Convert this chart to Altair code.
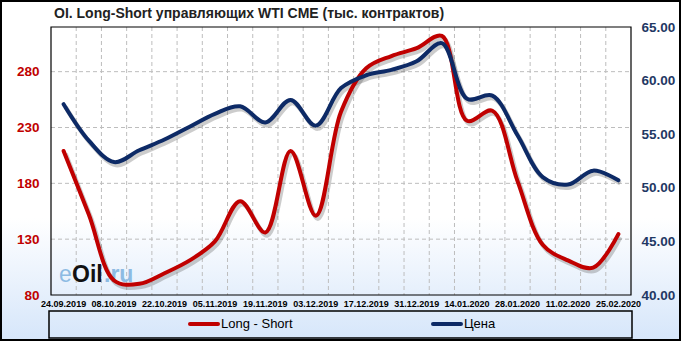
import altair as alt
import pandas as pd

# ---- data ----
dates = ["24.09.2019", "01.10.2019", "08.10.2019", "15.10.2019", "22.10.2019",
         "29.10.2019", "05.11.2019", "12.11.2019", "19.11.2019", "26.11.2019",
         "03.12.2019", "10.12.2019", "17.12.2019", "24.12.2019", "31.12.2019",
         "07.01.2020", "14.01.2020", "21.01.2020", "28.01.2020", "04.02.2020",
         "11.02.2020", "18.02.2020", "25.02.2020"]
long_short = [209, 152, 93, 90, 99.5, 111, 128, 164, 136, 209, 151, 244,
              283, 294, 301, 312, 236, 245, 182, 125, 111, 104.5, 134.5]
price = [57.8, 54.4, 52.4, 53.5, 54.5, 55.7, 56.9, 57.6, 56.1, 58.2, 55.8, 59.3,
         60.5, 61.0, 61.8, 63.5, 58.3, 58.6, 54.9, 51.0, 50.3, 51.6, 50.7]
x_labels = dates[::2]
left_ticks = [80, 130, 180, 230, 280]
right_ticks = [40, 45, 50, 55, 60, 65]
series_names = ["Long - Short", "Цена"]
series_colors = ["#c00000", "#0d2a66"]
title_text = "OI. Long-Short управляющих WTI CME (тыс. контрактов)"

W, H = 580, 268
FONT = "Liberation Sans"

df = pd.DataFrame({"date": dates, "ls": long_short, "price": price})

xscale = alt.Scale(type="band", domain=dates, paddingInner=0, paddingOuter=0)

base = alt.Chart(df)

bg = alt.Chart(pd.DataFrame({"a": [0]})).mark_rect(
    fill=alt.LinearGradient(gradient="linear", x1=0, x2=0, y1=0, y2=1,
                            stops=[alt.GradientStop(color="#ffffff", offset=0),
                                   alt.GradientStop(color="#ffffff", offset=0.64),
                                   alt.GradientStop(color="#d6e6fa", offset=1)]),
    stroke="#000000", strokeWidth=2
).encode(x=alt.value(-50), x2=alt.value(629), y=alt.value(-26), y2=alt.value(313))

# vertical dashed grid on the band boundaries of the date scale
vgrid = alt.Chart(pd.DataFrame({"date": dates[1:]})).mark_rule(
    color="#bdbdbd", strokeDash=[4, 3], strokeWidth=1
).encode(x=alt.X("date:O", scale=xscale, bandPosition=0, axis=None),
         y=alt.value(0), y2=alt.value(H))

# date labels placed through the x (band) scale
xlab = alt.Chart(pd.DataFrame({"date": x_labels})).mark_text(
    align="center", baseline="top", font=FONT, fontSize=9, fontWeight="bold", color="#000000"
).encode(x=alt.X("date:O", scale=xscale, bandPosition=0.5, axis=None),
         y=alt.value(H + 5), text="date:N")

def wm(txt, x, color, weight):
    return alt.Chart(pd.DataFrame({"t": [txt]})).mark_text(
        align="left", baseline="alphabetic", font=FONT, fontSize=23,
        fontWeight=weight, color=color
    ).encode(x=alt.value(x), y=alt.value(255), text="t:N")

wm_e = wm("e", 8, "#8dbbe3", "normal")
wm_oil = wm("Oil", 21, "#111111", "bold")
wm_ru = wm(".ru", 53, "#8dbbe3", "bold")

lscale = alt.Scale(domain=[80, 320], nice=False, zero=False)
left_axis = alt.Axis(orient="left", values=left_ticks, labelColor="#c00000", labelFont=FONT,
                     labelFontWeight="bold", labelFontSize=13.5, labelPadding=12,
                     ticks=False, domain=False, grid=False, title=None,
                     labelFlush=False, labelOverlap=False, zindex=2)
hgrid = alt.Chart(pd.DataFrame({"g": left_ticks[1:]})).mark_rule(
    color="#bdbdbd", strokeDash=[4, 3], strokeWidth=1
).encode(y=alt.Y("g:Q", scale=lscale, axis=None), x=alt.value(0), x2=alt.value(W))
red_shadow = base.mark_line(color="#555555", opacity=0.3, strokeWidth=4.5, xOffset=2, yOffset=3,
                            interpolate="catmull-rom").encode(
    x=alt.X("date:O", scale=xscale, bandPosition=0.5, axis=None),
    y=alt.Y("ls:Q", scale=lscale, axis=None))
red_line = base.mark_line(color=series_colors[0], strokeWidth=4, strokeCap="round",
                          interpolate="catmull-rom").encode(
    x=alt.X("date:O", scale=xscale, bandPosition=0.5, axis=None),
    y=alt.Y("ls:Q", scale=lscale, axis=left_axis))

rscale = alt.Scale(domain=[40, 65], nice=False, zero=False)
right_axis = alt.Axis(orient="right", values=right_ticks, format=".2f", labelColor="#1f3864",
                      labelFont=FONT, labelFontWeight="bold", labelFontSize=13.5, labelPadding=10,
                      ticks=False, domain=False, grid=False, title=None,
                      labelFlush=False, labelOverlap=False, zindex=2)
blue_shadow = base.mark_line(color="#555555", opacity=0.3, strokeWidth=4.5, xOffset=2, yOffset=3,
                             interpolate="catmull-rom").encode(
    x=alt.X("date:O", scale=xscale, bandPosition=0.5, axis=None),
    y=alt.Y("price:Q", scale=rscale, axis=None))
blue_line = base.mark_line(color=series_colors[1], strokeWidth=4, strokeCap="round",
                           interpolate="catmull-rom").encode(
    x=alt.X("date:O", scale=xscale, bandPosition=0.5, axis=None),
    y=alt.Y("price:Q", scale=rscale, axis=right_axis))

border = alt.Chart(pd.DataFrame({"a": [0]})).mark_rect(
    fill="transparent", stroke="#000000", strokeWidth=1.2
).encode(x=alt.value(0), x2=alt.value(W), y=alt.value(0), y2=alt.value(H))

title = alt.Chart(pd.DataFrame({"t": [title_text]})).mark_text(
    align="left", baseline="alphabetic", font=FONT, fontSize=14, fontWeight="bold", color="#222222"
).encode(x=alt.value(3), y=alt.value(-9), text="t:N")

# custom legend (box + one sample line and label per series)
leg_box = alt.Chart(pd.DataFrame({"a": [0]})).mark_rect(
    fill="transparent", stroke="#000000", strokeWidth=1.5
).encode(x=alt.value(-2), x2=alt.value(581), y=alt.value(284), y2=alt.value(311))
leg_layers = []
for name, color, x0 in zip(series_names, series_colors, [139, 382]):
    d = pd.DataFrame({"name": [name]})
    leg_layers.append(alt.Chart(d).mark_rule(strokeWidth=4, strokeCap="round", color=color).encode(
        x=alt.value(x0), x2=alt.value(x0 + 28), y=alt.value(297)))
    leg_layers.append(alt.Chart(d).mark_text(
        align="left", baseline="middle", font=FONT, fontSize=13, color="#000000"
    ).encode(x=alt.value(x0 + 31), y=alt.value(297), text="name:N"))

chart = alt.layer(
    bg, vgrid, xlab, wm_e, wm_oil, wm_ru, hgrid, red_shadow, blue_shadow, red_line, blue_line,
    border, title, leg_box, *leg_layers
).resolve_scale(y="independent").properties(
    width=W, height=H,
    padding={"left": 51, "top": 27, "right": 50, "bottom": 46},
    autosize=alt.AutoSizeParams(type="none"),
    background="#ffffff"
).configure_view(stroke=None)

chart.save("out.html", embed_options={"renderer": "svg", "actions": False})
